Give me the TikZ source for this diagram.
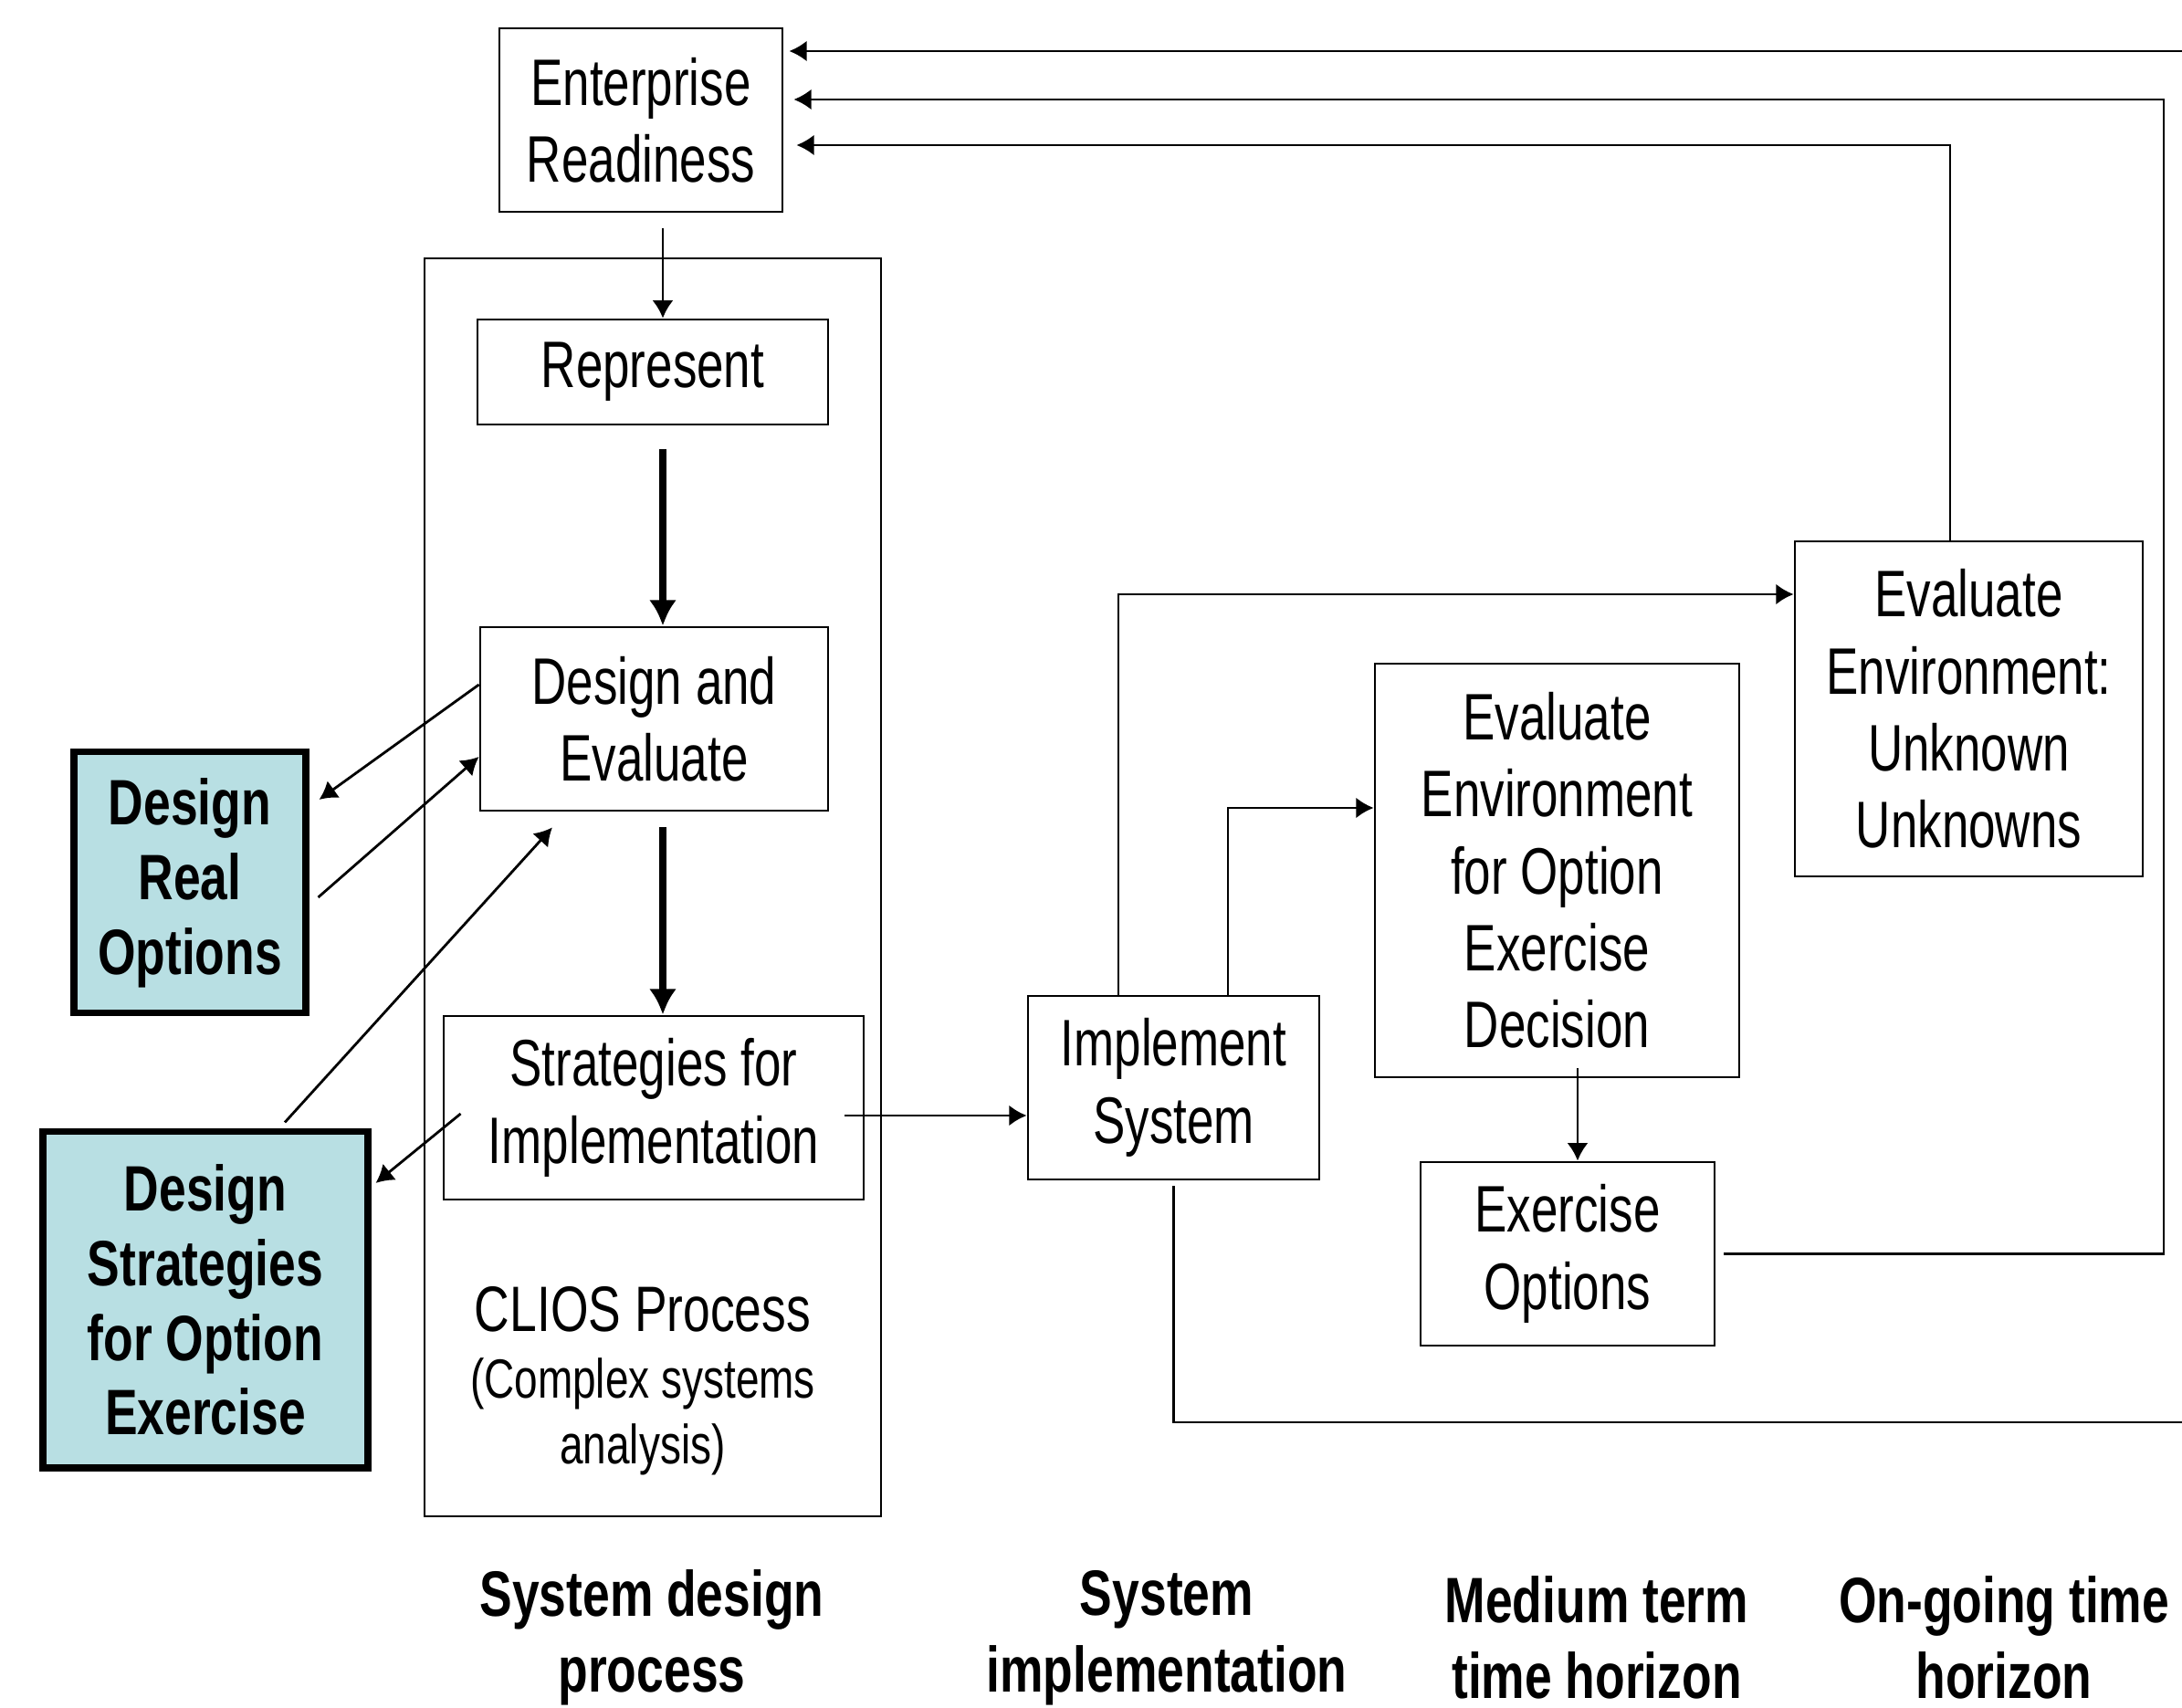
\documentclass[tikz,border=0pt]{standalone}
\usepackage{fontspec}
\setmainfont{Liberation Sans}[FakeStretch=0.76]
\newfontfamily\boxfont{Liberation Sans}[FakeStretch=0.735]
\usetikzlibrary{arrows.meta}

\definecolor{optfill}{RGB}{184,223,227}

\tikzset{
    blk/.style={draw, line width=0.8pt, inner sep=0pt, align=center, font=\boxfont\fontsize{20.5}{24}\selectfont},
    optblk/.style={draw, line width=2pt, fill=optfill, inner sep=0pt, align=center, font=\bfseries\fontsize{20}{23.3}\selectfont},
    horizon/.style={align=center, font=\bfseries\fontsize{20}{23.8}\selectfont},
    link/.style={line width=0.8pt, -{Latex[length=5.5pt,width=6.5pt]}},
    bigarr/.style={line width=2.3pt, -{Latex[length=8pt,width=8.5pt]}},
}

\begin{document}
\begin{tikzpicture}[>=latex]
\useasboundingbox (0,0) rectangle (23.9,18.71);

    % CLIOS process column
    \node[draw, line width=0.8pt, minimum width=5cm, minimum height=13.78cm] (clios) at (7.15,8.99) {};
    \node[blk, minimum width=3.10cm, minimum height=2.01cm] (er) at (7.02,17.395) {Enterprise\\Readiness};
    \node[blk, minimum width=3.84cm, minimum height=1.15cm] (rep) at (7.15,14.635) {Represent};
    \node[blk, minimum width=3.81cm, minimum height=2.01cm] (de) at (7.165,10.835) {Design and\\Evaluate};
    \node[blk, minimum width=4.60cm, minimum height=2.01cm] (strat) at (7.16,6.575) {Strategies for\\Implementation};
    \node[align=center, font=\fontsize{17.2}{20.6}\selectfont] (cliosname) at (7.04,3.58) {{\fontsize{20}{20.6}\selectfont CLIOS Process}\\(Complex systems\\analysis)};

    % real options boxes
    \node[optblk, minimum width=2.54cm, minimum height=2.86cm] (dro) at (2.08,9.04) {Design\\Real\\Options};
    \node[optblk, minimum width=3.56cm, minimum height=3.68cm] (dsoe) at (2.25,4.47) {Design\\Strategies\\for Option\\Exercise};

    % implementation and horizons
    \node[blk, minimum width=3.19cm, minimum height=2.01cm] (impl) at (12.855,6.795) {Implement\\System};
    \node[blk, minimum width=3.99cm, minimum height=4.53cm] (eeod) at (17.055,9.175) {Evaluate\\Environment\\for Option\\Exercise\\Decision};
    \node[blk, minimum width=3.22cm, minimum height=2.01cm] (exop) at (17.17,4.975) {Exercise\\Options};
    \node[blk, minimum width=3.81cm, minimum height=3.67cm] (eeu) at (21.565,10.945) {Evaluate\\Environment:\\Unknown\\Unknowns};

    \node[horizon] (hdesign) at (7.14,0.77) {System design\\process};
    \node[horizon] (himpl) at (12.78,0.77) {System\\implementation};
    \node[horizon] (hmedium) at (17.49,0.77) {Medium term\\time horizon};
    \node[horizon] (hongoing) at (21.95,0.77) {On-going time\\horizon};

    \coordinate (spine) at (7.26,0);
    \coordinate (s1) at (9.25,6.49);
    \coordinate (c1) at (12.25,12.20);
    \coordinate (c2) at (13.45,9.86);
    \coordinate (c3) at (17.28,7.01);
    \coordinate (r1) at (24.0,18.15);
    \coordinate (r2) at (23.70,17.62);
    \coordinate (r3) at (21.36,17.12);
    \coordinate (b1) at (12.88,3.13);

    \draw[link] ([yshift=-0.17cm]er.south -| spine) -- (rep.north -| spine);
    \draw[bigarr] ([yshift=-0.26cm]rep.south -| spine) -- (de.north -| spine);
    \draw[bigarr] ([yshift=-0.17cm]de.south -| spine) -- (strat.north -| spine);

    \draw[link] ([yshift=0.375cm]de.west) -- ([xshift=0.11cm,yshift=0.91cm]dro.east);
    \draw[link] ([xshift=0.10cm,yshift=-0.16cm]dro.east) -- ([yshift=-0.415cm]de.west);
    \draw[link] ([xshift=0.87cm,yshift=0.07cm]dsoe.north) -- ([xshift=-1.115cm,yshift=-0.17cm]de.south);
    \draw[link] ([xshift=0.20cm,yshift=-0.065cm]strat.west) -- ([xshift=0.05cm,yshift=1.28cm]dsoe.east);

    \draw[link] (s1) -- (s1 -| impl.west);
    \draw[link] (c1 |- impl.north) -- (c1) -- (c1 -| eeu.west);
    \draw[link] (c2 |- impl.north) -- (c2) -- (c2 -| eeod.west);
    \draw[link] (c3) -- (c3 |- exop.north);

    % feedback to enterprise readiness
    \draw[link] ([yshift=-0.06cm]impl.south) -- (impl.south |- b1) -- (b1 -| r1) -- (r1) -- ([xshift=0.06cm]er.east |- r1);
    \draw[link] ([xshift=0.09cm]exop.east) -- (exop.east -| r2) -- (r2) -- ([xshift=0.11cm]er.east |- r2);
    \draw[link] (r3 |- eeu.north) -- (r3) -- ([xshift=0.14cm]er.east |- r3);

\end{tikzpicture}
\end{document}
